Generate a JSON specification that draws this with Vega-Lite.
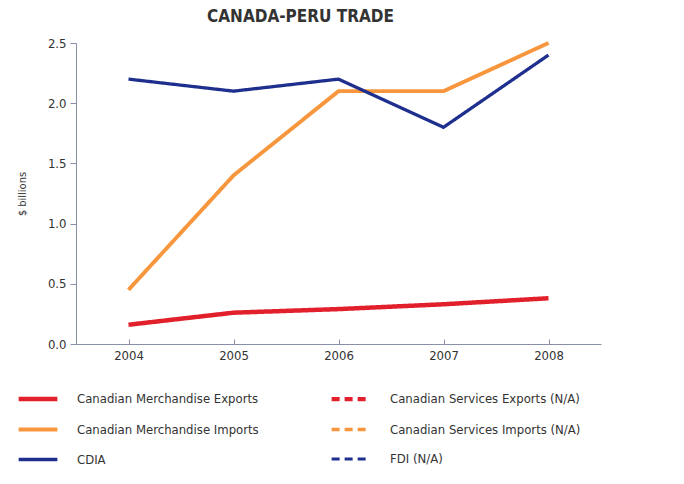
{
  "$schema": "https://vega.github.io/schema/vega-lite/v6.json",
  "autosize": {"type": "none"},
  "padding": {"left": 76, "top": 43, "right": 83, "bottom": 140},
  "width": 525,
  "height": 301,
  "background": "white",
  "title": {
    "text": "CANADA-PERU TRADE",
    "font": "DejaVu Sans Condensed, Liberation Sans, sans-serif",
    "fontSize": 17,
    "fontWeight": "bold",
    "color": "#333333",
    "anchor": "middle",
    "frame": "group",
    "dx": -38,
    "offset": 9
  },
  "data": {
    "values": [
      {"year": 2004, "series": "Canadian Merchandise Exports", "value": 0.16},
      {"year": 2005, "series": "Canadian Merchandise Exports", "value": 0.26},
      {"year": 2006, "series": "Canadian Merchandise Exports", "value": 0.29},
      {"year": 2007, "series": "Canadian Merchandise Exports", "value": 0.33},
      {"year": 2008, "series": "Canadian Merchandise Exports", "value": 0.38},
      {"year": 2004, "series": "Canadian Merchandise Imports", "value": 0.45},
      {"year": 2005, "series": "Canadian Merchandise Imports", "value": 1.4},
      {"year": 2006, "series": "Canadian Merchandise Imports", "value": 2.1},
      {"year": 2007, "series": "Canadian Merchandise Imports", "value": 2.1},
      {"year": 2008, "series": "Canadian Merchandise Imports", "value": 2.5},
      {"year": 2004, "series": "CDIA", "value": 2.2},
      {"year": 2005, "series": "CDIA", "value": 2.1},
      {"year": 2006, "series": "CDIA", "value": 2.2},
      {"year": 2007, "series": "CDIA", "value": 1.8},
      {"year": 2008, "series": "CDIA", "value": 2.4}
    ]
  },
  "mark": {"type": "line", "strokeCap": "butt", "strokeJoin": "miter"},
  "encoding": {
    "x": {
      "field": "year",
      "type": "quantitative",
      "scale": {"domain": [2003.5, 2008.5], "nice": false, "zero": false},
      "axis": {
        "values": [2004, 2005, 2006, 2007, 2008],
        "format": "d",
        "title": null,
        "grid": false,
        "domainColor": "#8a8fa8",
        "tickColor": "#8a8fa8",
        "tickSize": -5,
        "labelPadding": 10,
        "labelFont": "DejaVu Sans Condensed, Liberation Sans, sans-serif",
        "labelFontSize": 13,
        "labelColor": "#333333"
      }
    },
    "y": {
      "field": "value",
      "type": "quantitative",
      "scale": {"domain": [0, 2.5], "nice": false},
      "axis": {
        "values": [0, 0.5, 1, 1.5, 2, 2.5],
        "format": ".1f",
        "title": "$ billions",
        "titleFont": "DejaVu Sans Condensed, Liberation Sans, sans-serif",
        "titleFontSize": 11,
        "titleFontWeight": "normal",
        "titleColor": "#333333",
        "titlePadding": 20,
        "grid": false,
        "domainColor": "#8a8fa8",
        "tickColor": "#8a8fa8",
        "tickSize": 6,
        "labelPadding": 4,
        "labelFont": "DejaVu Sans Condensed, Liberation Sans, sans-serif",
        "labelFontSize": 13,
        "labelColor": "#333333"
      }
    },
    "color": {
      "field": "series",
      "type": "nominal",
      "scale": {
        "domain": ["Canadian Merchandise Exports", "Canadian Services Exports (N/A)", "Canadian Merchandise Imports", "Canadian Services Imports (N/A)", "CDIA", "FDI (N/A)"],
        "range": ["#e2202c", "#e2202c", "#f7963c", "#f7963c", "#1e2f8e", "#1e2f8e"]
      },
      "legend": {
        "title": null,
        "orient": "none",
        "legendX": -60,
        "legendY": 334,
        "columns": 2,
        "direction": "horizontal",
        "symbolType": "stroke",
        "symbolSize": 1500,
        "labelFont": "DejaVu Sans Condensed, Liberation Sans, sans-serif",
        "labelFontSize": 13,
        "labelColor": "#333333",
        "labelOffset": 17,
        "labelLimit": 300,
        "rowPadding": 0,
        "columnPadding": 64
      }
    },
    "strokeDash": {
      "field": "series",
      "type": "nominal",
      "scale": {
        "domain": ["Canadian Merchandise Exports", "Canadian Services Exports (N/A)", "Canadian Merchandise Imports", "Canadian Services Imports (N/A)", "CDIA", "FDI (N/A)"],
        "range": [[1, 0], [8, 5], [1, 0], [8, 5], [1, 0], [8, 5]]
      }
    },
    "strokeWidth": {
      "field": "series",
      "type": "nominal",
      "scale": {
        "domain": ["Canadian Merchandise Exports", "Canadian Services Exports (N/A)", "Canadian Merchandise Imports", "Canadian Services Imports (N/A)", "CDIA", "FDI (N/A)"],
        "range": [4.5, 3, 4.5, 3, 4.5, 3]
      }
    }
  },
  "config": {"view": {"stroke": null}}
}
